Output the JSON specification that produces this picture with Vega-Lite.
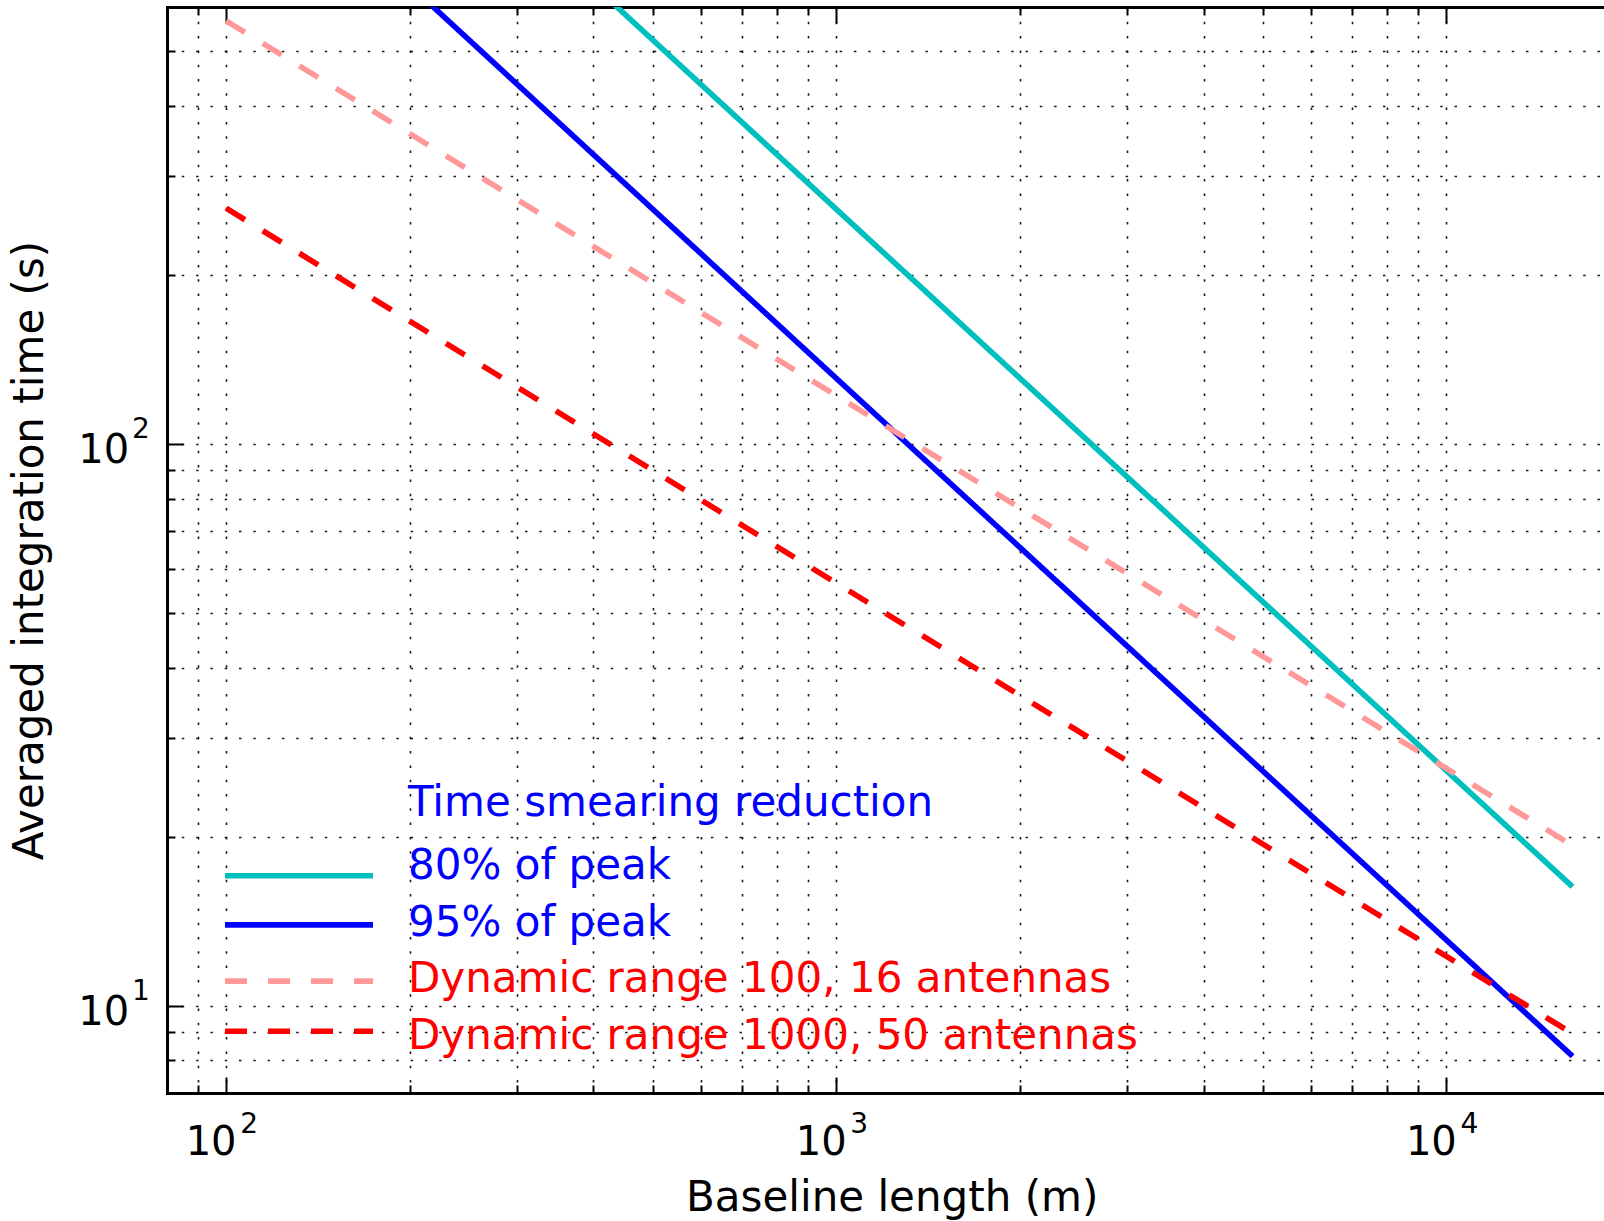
{
  "$schema": "https://vega.github.io/schema/vega-lite/v6.json",
  "width": 1437,
  "height": 1086,
  "autosize": "none",
  "padding": {"left": 167, "top": 7, "right": 0, "bottom": 128},
  "background": "white",
  "config": {
    "font": "DejaVu Sans",
    "view": {"stroke": null},
    "axis": {"labelFont": "DejaVu Sans", "titleFont": "DejaVu Sans", "labelColor": "#000", "titleColor": "#000"},
    "legend": {"labelFont": "DejaVu Sans", "titleFont": "DejaVu Sans"}
  },
  "data": {
    "values": [
      {"series": "80% of peak", "x": 430, "y": 610},
      {"series": "80% of peak", "x": 1000, "y": 262},
      {"series": "80% of peak", "x": 16100, "y": 16.3},
      {"series": "95% of peak", "x": 215, "y": 610},
      {"series": "95% of peak", "x": 1000, "y": 131},
      {"series": "95% of peak", "x": 16100, "y": 8.14},
      {"series": "Dynamic range 100, 16 antennas", "x": 100, "y": 567},
      {"series": "Dynamic range 100, 16 antennas", "x": 1000, "y": 122},
      {"series": "Dynamic range 100, 16 antennas", "x": 16100, "y": 19.3},
      {"series": "Dynamic range 1000, 50 antennas", "x": 100, "y": 263},
      {"series": "Dynamic range 1000, 50 antennas", "x": 1000, "y": 56.6},
      {"series": "Dynamic range 1000, 50 antennas", "x": 16100, "y": 8.93}
    ]
  },
  "layer": [
    {
      "mark": {"type": "line", "clip": true, "strokeWidth": 5.6, "strokeCap": "butt"},
      "encoding": {
        "x": {
          "field": "x", "type": "quantitative",
          "scale": {"type": "log", "domain": [80, 18130], "nice": false, "zero": false},
          "axis": {
            "orient": "bottom",
            "values": [90, 100, 200, 300, 400, 500, 600, 700, 800, 900, 1000, 2000, 3000, 4000, 5000, 6000, 7000, 8000, 9000, 10000],
            "title": "Baseline length (m)", "titleFontSize": 42, "titleFontWeight": "normal",
            "titleX": 724.7, "titleY": 117, "titleBaseline": "alphabetic", "titleAlign": "center", "titleAnchor": null,
            "grid": true, "gridColor": "#000", "gridWidth": 1.6, "gridDash": [2.5, 11.8], "gridOpacity": 0.9,
            "ticks": true, "tickColor": "#000", "tickWidth": 2,
            "tickSize": {"condition": {"test": "indexof([10,100,1000,10000], datum.value) >= 0", "value": -16}, "value": -8},
            "domain": true, "domainColor": "#000", "domainWidth": 3, "domainCap": "square",
            "labelExpr": "indexof([10,100,1000,10000], datum.value) >= 0 ? '10' : ''",
            "labelFontSize": 40, "labelPadding": 45.6, "labelOffset": -15.5,
            "labelOverlap": false, "labelFlush": false, "labelBound": false
          }
        },
        "y": {
          "field": "y", "type": "quantitative",
          "scale": {"type": "log", "domain": [7, 600], "nice": false, "zero": false},
          "axis": {
            "orient": "left",
            "values": [8, 9, 10, 20, 30, 40, 50, 60, 70, 80, 90, 100, 200, 300, 400, 500],
            "title": "Averaged integration time (s)", "titleFontSize": 42, "titleFontWeight": "normal",
            "titleX": -125, "titleY": 543, "titleBaseline": "alphabetic", "titleAlign": "center", "titleAngle": -90, "titleAnchor": null,
            "grid": true, "gridColor": "#000", "gridWidth": 1.6, "gridDash": [2.5, 11.8], "gridOpacity": 0.9,
            "ticks": true, "tickColor": "#000", "tickWidth": 2,
            "tickSize": {"condition": {"test": "indexof([10,100,1000,10000], datum.value) >= 0", "value": -16}, "value": -8},
            "domain": true, "domainColor": "#000", "domainWidth": 3, "domainCap": "square",
            "labelExpr": "indexof([10,100,1000,10000], datum.value) >= 0 ? '10' : ''",
            "labelFontSize": 40, "labelPadding": 54.4, "labelOffset": 6.6,
            "labelOverlap": false, "labelFlush": false, "labelBound": false
          }
        },
        "color": {
          "field": "series", "type": "nominal",
          "scale": {
            "domain": ["80% of peak", "95% of peak", "Dynamic range 100, 16 antennas", "Dynamic range 1000, 50 antennas"],
            "range": ["#00BFBF", "#0000FF", "#FF9999", "#FF0000"]
          },
          "legend": {
            "orient": "none", "legendX": 111, "legendY": 783, "padding": 0,
            "title": "Time smearing reduction", "titleFontSize": 42, "titleColor": "#0000FF", "titleFontWeight": "normal",
            "titlePadding": 13, "titleLimit": 2000,
            "labelFontSize": 42, "labelLimit": 2000, "labelOffset": 88, "rowPadding": 14.6,
            "symbolType": "M-10,0H10", "symbolSize": 219, "symbolStrokeWidth": 5.6,
            "encode": {
              "labels": {"update": {
                "fill": {"signal": "indexof(datum.label, 'Dynamic') >= 0 ? '#FF0000' : '#0000FF'"}
              }},
              "symbols": {"update": {
                "strokeDash": {"signal": "indexof(datum.label, 'Dynamic') >= 0 ? [22, 21] : [1, 0]"},
                "y": {"signal": "datum.size * 0.5 + (indexof(datum.label, '1000,') >= 0 ? -4.5 : indexof(datum.label, 'Dynamic') >= 0 ? 1.9 : indexof(datum.label, '80%') >= 0 ? 9.7 : 2.3)"}
              }},
              "title": {"update": {"dx": {"value": 130}, "dy": {"value": -7}}}
            }
          }
        },
        "strokeDash": {
          "field": "series", "type": "nominal",
          "scale": {
            "domain": ["80% of peak", "95% of peak", "Dynamic range 100, 16 antennas", "Dynamic range 1000, 50 antennas"],
            "range": [[1, 0], [1, 0], [22, 21], [22, 21]]
          },
          "legend": null
        }
      }
    },
    {
      "mark": {"type": "point", "opacity": 0},
      "encoding": {
        "x": {
          "field": "x", "type": "quantitative",
          "scale": {"type": "log", "domain": [80, 18130], "nice": false, "zero": false},
          "axis": {
            "orient": "top",
            "values": [90, 100, 200, 300, 400, 500, 600, 700, 800, 900, 1000, 2000, 3000, 4000, 5000, 6000, 7000, 8000, 9000, 10000],
            "title": null, "labels": false, "grid": false,
            "ticks": true, "tickColor": "#000", "tickWidth": 2,
            "tickSize": {"condition": {"test": "indexof([10,100,1000,10000], datum.value) >= 0", "value": -16}, "value": -8},
            "domain": true, "domainColor": "#000", "domainWidth": 3, "domainCap": "square"
          }
        },
        "y": {
          "field": "y", "type": "quantitative",
          "scale": {"type": "log", "domain": [7, 600], "nice": false, "zero": false},
          "axis": {
            "orient": "left",
            "values": [10, 100],
            "title": null, "grid": false, "domain": false, "ticks": false, "tickSize": 0,
            "labelExpr": "datum.value == 10 ? '1' : '2'",
            "labelFontSize": 28, "labelPadding": 17.7, "labelOffset": -14.2,
            "labelOverlap": false, "labelFlush": false, "labelBound": false
          }
        }
      }
    },
    {
      "mark": {"type": "point", "opacity": 0},
      "encoding": {
        "x": {
          "field": "x", "type": "quantitative",
          "scale": {"type": "log", "domain": [80, 18130], "nice": false, "zero": false},
          "axis": {
            "orient": "bottom",
            "values": [100, 1000, 10000],
            "title": null, "grid": false, "domain": false, "ticks": false, "tickSize": 0,
            "labelExpr": "datum.value == 100 ? '2' : datum.value == 1000 ? '3' : '4'",
            "labelFontSize": 28, "labelPadding": 17, "labelOffset": 22.5,
            "labelOverlap": false, "labelFlush": false, "labelBound": false
          }
        },
        "y": {
          "field": "y", "type": "quantitative",
          "scale": {"type": "log", "domain": [7, 600], "nice": false, "zero": false},
          "axis": null
        }
      }
    }
  ],
  "resolve": {"axis": {"x": "independent", "y": "independent"}}
}
